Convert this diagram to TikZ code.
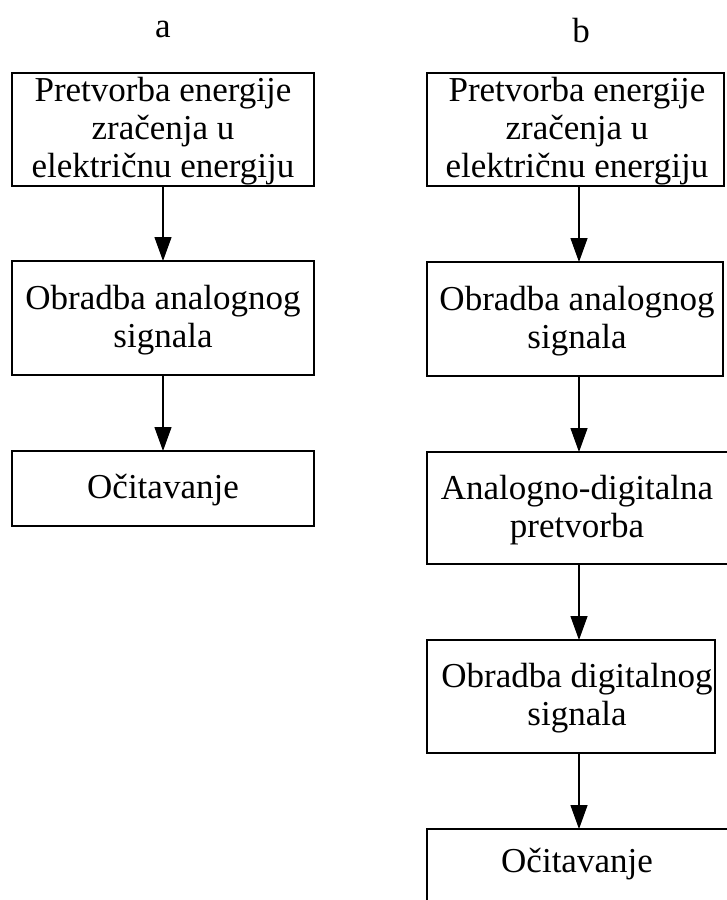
\documentclass[tikz,border=0pt]{standalone}
\usepackage{fontspec}
\setmainfont{Liberation Serif}
\usetikzlibrary{arrows.meta}

\begin{document}
\begin{tikzpicture}[x=1pt, y=-1pt,
  stage/.style={draw, line width=1.5pt, inner sep=0pt, outer sep=0pt},
  stagetext/.style={align=center, inner sep=0pt, font=\fontsize{35}{38}\selectfont},
  heading/.style={anchor=base, inner sep=0pt, font=\fontsize{35}{38}\selectfont},
  flow/.style={line width=1.3pt, -{Triangle[length=24pt, width=17pt]}}]

\useasboundingbox (0,0) rectangle (726,900);

% column a
\node[heading] (la) at (163,37) {a};
\node[stage, minimum width=302pt, minimum height=113pt] (A1) at (163,129.5) {};
\node[stage, minimum width=302pt, minimum height=114pt] (A2) at (163,318) {};
\node[stage, minimum width=302pt, minimum height=75pt]  (A3) at (163,488.5) {};
\node[stagetext] (A1t) at (163,131) {Pretvorba energije\\zračenja u\\električnu energiju};
\node[stagetext] (A2t) at (163,320) {Obradba analognog\\signala};
\node[stagetext] (A3t) at (163,490) {Očitavanje};
\draw[flow] (A1) -- (A2);
\draw[flow] (A2) -- (A3);

% column b
\node[heading] (lb) at (581,42) {b};
\coordinate (bx) at (579,0);
\node[stage, minimum width=297pt, minimum height=113pt] (B1) at (575.5,129.5) {};
\node[stage, minimum width=296pt, minimum height=114pt] (B2) at (575,319) {};
\node[stage, minimum width=320pt, minimum height=112pt] (B3) at (587,508) {};
\node[stage, minimum width=288pt, minimum height=113pt] (B4) at (571,696.5) {};
\node[stage, minimum width=320pt, minimum height=113pt] (B5) at (587,885.5) {};
\node[stagetext] (B1t) at (577,131) {Pretvorba energije\\zračenja u\\električnu energiju};
\node[stagetext] (B2t) at (577,321) {Obradba analognog\\signala};
\node[stagetext] (B3t) at (577,510) {Analogno-digitalna\\pretvorba};
\node[stagetext] (B4t) at (577,698) {Obradba digitalnog\\signala};
\node[stagetext] (B5t) at (577,864) {Očitavanje};
\draw[flow] (B1.south -| bx) -- (B2.north -| bx);
\draw[flow] (B2.south -| bx) -- (B3.north -| bx);
\draw[flow] (B3.south -| bx) -- (B4.north -| bx);
\draw[flow] (B4.south -| bx) -- (B5.north -| bx);
\end{tikzpicture}
\end{document}
